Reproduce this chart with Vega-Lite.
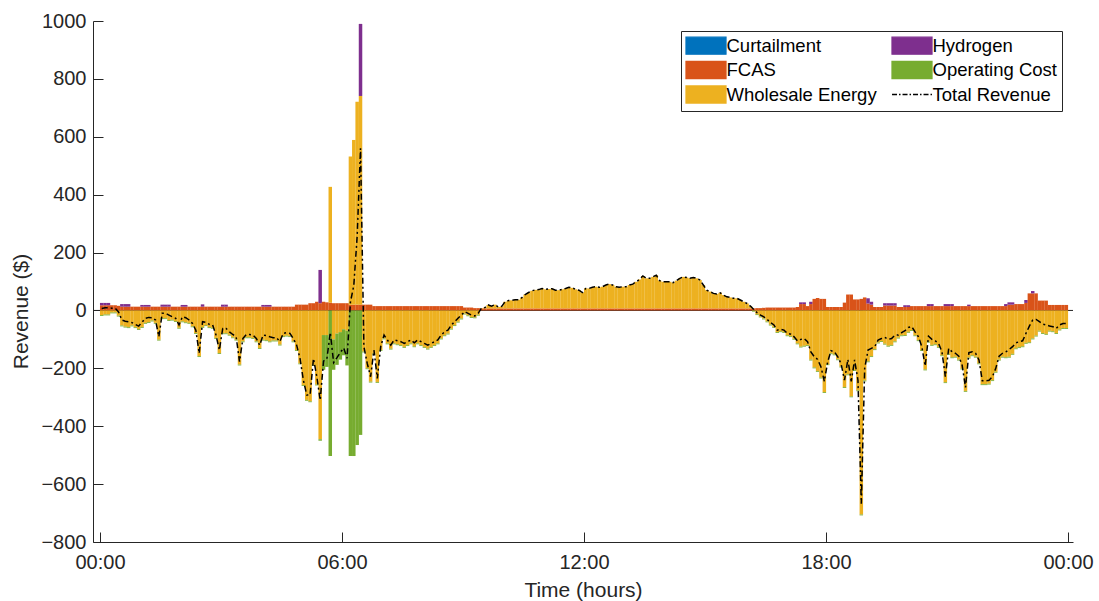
{
  "$schema": "https://vega.github.io/schema/vega-lite/v6.json",
  "width": 980,
  "height": 521,
  "autosize": {"type": "none"},
  "padding": {"left": 93, "top": 21, "right": 26, "bottom": 59},
  "background": "white",
  "datasets": {
    "series": [
      {"key": "fcas", "label": "FCAS", "rank": 2},
      {"key": "energy", "label": "Wholesale Energy", "rank": 3},
      {"key": "hydrogen", "label": "Hydrogen", "rank": 4},
      {"key": "opcost", "label": "Operating Cost", "rank": 5}
    ],
    "revenue": [
      {"t":0,"fcas":18,"energy":-16,"hydrogen":8,"opcost":-3,"total":7},
      {"t":5,"fcas":18,"energy":-14,"hydrogen":8,"opcost":-3,"total":9},
      {"t":10,"fcas":18,"energy":-14,"hydrogen":8,"opcost":-3,"total":9},
      {"t":15,"fcas":18,"energy":-7,"hydrogen":0,"opcost":-3,"total":8},
      {"t":20,"fcas":18,"energy":-7,"hydrogen":0,"opcost":-3,"total":8},
      {"t":25,"fcas":16,"energy":-18,"hydrogen":0,"opcost":-3,"total":-5},
      {"t":30,"fcas":13,"energy":-52,"hydrogen":9,"opcost":-3,"total":-33},
      {"t":35,"fcas":13,"energy":-56,"hydrogen":9,"opcost":-3,"total":-37},
      {"t":40,"fcas":13,"energy":-58,"hydrogen":9,"opcost":-3,"total":-39},
      {"t":45,"fcas":13,"energy":-52,"hydrogen":0,"opcost":-3,"total":-42},
      {"t":50,"fcas":13,"energy":-58,"hydrogen":0,"opcost":-3,"total":-48},
      {"t":55,"fcas":13,"energy":-64,"hydrogen":0,"opcost":-3,"total":-54},
      {"t":60,"fcas":13,"energy":-57,"hydrogen":6,"opcost":-3,"total":-41},
      {"t":65,"fcas":13,"energy":-43,"hydrogen":6,"opcost":-3,"total":-27},
      {"t":70,"fcas":13,"energy":-40,"hydrogen":6,"opcost":-3,"total":-24},
      {"t":75,"fcas":13,"energy":-35,"hydrogen":0,"opcost":-3,"total":-25},
      {"t":80,"fcas":13,"energy":-43,"hydrogen":0,"opcost":-3,"total":-33},
      {"t":85,"fcas":13,"energy":-101,"hydrogen":0,"opcost":-3,"total":-91},
      {"t":90,"fcas":13,"energy":-27,"hydrogen":7,"opcost":-3,"total":-10},
      {"t":95,"fcas":13,"energy":-27,"hydrogen":7,"opcost":-3,"total":-10},
      {"t":100,"fcas":13,"energy":-33,"hydrogen":7,"opcost":-3,"total":-16},
      {"t":105,"fcas":13,"energy":-32,"hydrogen":0,"opcost":-3,"total":-22},
      {"t":110,"fcas":13,"energy":-37,"hydrogen":0,"opcost":-3,"total":-27},
      {"t":115,"fcas":13,"energy":-60,"hydrogen":0,"opcost":-3,"total":-50},
      {"t":120,"fcas":13,"energy":-38,"hydrogen":6,"opcost":-3,"total":-22},
      {"t":125,"fcas":13,"energy":-41,"hydrogen":6,"opcost":-3,"total":-25},
      {"t":130,"fcas":13,"energy":-43,"hydrogen":0,"opcost":-3,"total":-33},
      {"t":135,"fcas":13,"energy":-55,"hydrogen":0,"opcost":-3,"total":-45},
      {"t":140,"fcas":13,"energy":-78,"hydrogen":0,"opcost":-3,"total":-68},
      {"t":145,"fcas":13,"energy":-158,"hydrogen":0,"opcost":-3,"total":-148},
      {"t":150,"fcas":13,"energy":-57,"hydrogen":8,"opcost":-3,"total":-39},
      {"t":155,"fcas":13,"energy":-51,"hydrogen":0,"opcost":-3,"total":-41},
      {"t":160,"fcas":13,"energy":-58,"hydrogen":0,"opcost":-3,"total":-48},
      {"t":165,"fcas":13,"energy":-60,"hydrogen":0,"opcost":-3,"total":-50},
      {"t":170,"fcas":13,"energy":-95,"hydrogen":0,"opcost":-3,"total":-85},
      {"t":175,"fcas":13,"energy":-147,"hydrogen":0,"opcost":-3,"total":-137},
      {"t":180,"fcas":13,"energy":-79,"hydrogen":7,"opcost":-3,"total":-62},
      {"t":185,"fcas":13,"energy":-79,"hydrogen":7,"opcost":-3,"total":-62},
      {"t":190,"fcas":13,"energy":-84,"hydrogen":0,"opcost":-3,"total":-74},
      {"t":195,"fcas":13,"energy":-93,"hydrogen":0,"opcost":-3,"total":-83},
      {"t":200,"fcas":13,"energy":-101,"hydrogen":0,"opcost":-3,"total":-91},
      {"t":205,"fcas":13,"energy":-187,"hydrogen":0,"opcost":-3,"total":-177},
      {"t":210,"fcas":13,"energy":-107,"hydrogen":0,"opcost":-3,"total":-97},
      {"t":215,"fcas":13,"energy":-93,"hydrogen":0,"opcost":-3,"total":-83},
      {"t":220,"fcas":13,"energy":-93,"hydrogen":0,"opcost":-3,"total":-83},
      {"t":225,"fcas":13,"energy":-95,"hydrogen":0,"opcost":-3,"total":-85},
      {"t":230,"fcas":13,"energy":-107,"hydrogen":0,"opcost":-3,"total":-97},
      {"t":235,"fcas":13,"energy":-130,"hydrogen":0,"opcost":-3,"total":-120},
      {"t":240,"fcas":13,"energy":-101,"hydrogen":6,"opcost":-3,"total":-85},
      {"t":245,"fcas":13,"energy":-103,"hydrogen":6,"opcost":-3,"total":-87},
      {"t":250,"fcas":13,"energy":-107,"hydrogen":6,"opcost":-3,"total":-91},
      {"t":255,"fcas":13,"energy":-104,"hydrogen":0,"opcost":-3,"total":-94},
      {"t":260,"fcas":13,"energy":-104,"hydrogen":0,"opcost":-3,"total":-94},
      {"t":265,"fcas":13,"energy":-118,"hydrogen":0,"opcost":-3,"total":-108},
      {"t":270,"fcas":13,"energy":-89,"hydrogen":0,"opcost":-3,"total":-79},
      {"t":275,"fcas":13,"energy":-87,"hydrogen":0,"opcost":-3,"total":-77},
      {"t":280,"fcas":13,"energy":-89,"hydrogen":0,"opcost":-3,"total":-79},
      {"t":285,"fcas":13,"energy":-107,"hydrogen":0,"opcost":-3,"total":-97},
      {"t":290,"fcas":20,"energy":-137,"hydrogen":0,"opcost":-3,"total":-120},
      {"t":295,"fcas":20,"energy":-183,"hydrogen":0,"opcost":-3,"total":-166},
      {"t":300,"fcas":20,"energy":-258,"hydrogen":0,"opcost":-3,"total":-241},
      {"t":305,"fcas":20,"energy":-309,"hydrogen":0,"opcost":-3,"total":-292},
      {"t":310,"fcas":25,"energy":-314,"hydrogen":0,"opcost":-3,"total":-292},
      {"t":315,"fcas":25,"energy":-188,"hydrogen":0,"opcost":-3,"total":-166},
      {"t":320,"fcas":30,"energy":-256,"hydrogen":0,"opcost":-3,"total":-229},
      {"t":325,"fcas":25,"energy":-445,"hydrogen":115,"opcost":-5,"total":-310},
      {"t":330,"fcas":30,"energy":-85,"hydrogen":0,"opcost":-120,"total":-175},
      {"t":335,"fcas":28,"energy":-85,"hydrogen":0,"opcost":-110,"total":-167},
      {"t":340,"fcas":27,"energy":400,"hydrogen":0,"opcost":-503,"total":-76},
      {"t":345,"fcas":25,"energy":-100,"hydrogen":0,"opcost":-105,"total":-180},
      {"t":350,"fcas":25,"energy":-80,"hydrogen":0,"opcost":-108,"total":-163},
      {"t":355,"fcas":25,"energy":-75,"hydrogen":0,"opcost":-95,"total":-145},
      {"t":360,"fcas":25,"energy":-65,"hydrogen":0,"opcost":-90,"total":-130},
      {"t":365,"fcas":25,"energy":-70,"hydrogen":0,"opcost":-120,"total":-165},
      {"t":370,"fcas":20,"energy":512,"hydrogen":0,"opcost":-503,"total":29},
      {"t":375,"fcas":20,"energy":569,"hydrogen":0,"opcost":-503,"total":86},
      {"t":380,"fcas":20,"energy":701,"hydrogen":0,"opcost":-465,"total":256},
      {"t":385,"fcas":20,"energy":721,"hydrogen":249,"opcost":-430,"total":560},
      {"t":390,"fcas":20,"energy":-142,"hydrogen":0,"opcost":-3,"total":-125},
      {"t":395,"fcas":20,"energy":-200,"hydrogen":0,"opcost":-3,"total":-183},
      {"t":400,"fcas":20,"energy":-246,"hydrogen":0,"opcost":-3,"total":-229},
      {"t":405,"fcas":15,"energy":-149,"hydrogen":0,"opcost":-3,"total":-137},
      {"t":410,"fcas":15,"energy":-247,"hydrogen":0,"opcost":-3,"total":-235},
      {"t":415,"fcas":15,"energy":-137,"hydrogen":0,"opcost":-3,"total":-125},
      {"t":420,"fcas":15,"energy":-97,"hydrogen":0,"opcost":-3,"total":-85},
      {"t":425,"fcas":15,"energy":-114,"hydrogen":0,"opcost":-3,"total":-102},
      {"t":430,"fcas":15,"energy":-132,"hydrogen":0,"opcost":-3,"total":-120},
      {"t":435,"fcas":15,"energy":-114,"hydrogen":0,"opcost":-3,"total":-102},
      {"t":440,"fcas":15,"energy":-117,"hydrogen":0,"opcost":-3,"total":-105},
      {"t":445,"fcas":15,"energy":-120,"hydrogen":0,"opcost":-3,"total":-108},
      {"t":450,"fcas":15,"energy":-126,"hydrogen":0,"opcost":-3,"total":-114},
      {"t":455,"fcas":15,"energy":-120,"hydrogen":0,"opcost":-3,"total":-108},
      {"t":460,"fcas":15,"energy":-114,"hydrogen":0,"opcost":-3,"total":-102},
      {"t":465,"fcas":15,"energy":-124,"hydrogen":0,"opcost":-3,"total":-112},
      {"t":470,"fcas":15,"energy":-114,"hydrogen":0,"opcost":-3,"total":-102},
      {"t":475,"fcas":15,"energy":-120,"hydrogen":0,"opcost":-3,"total":-108},
      {"t":480,"fcas":15,"energy":-126,"hydrogen":0,"opcost":-3,"total":-114},
      {"t":485,"fcas":15,"energy":-132,"hydrogen":0,"opcost":-3,"total":-120},
      {"t":490,"fcas":15,"energy":-126,"hydrogen":0,"opcost":-3,"total":-114},
      {"t":495,"fcas":15,"energy":-120,"hydrogen":0,"opcost":-3,"total":-108},
      {"t":500,"fcas":15,"energy":-114,"hydrogen":0,"opcost":-3,"total":-102},
      {"t":505,"fcas":15,"energy":-97,"hydrogen":0,"opcost":-3,"total":-85},
      {"t":510,"fcas":15,"energy":-86,"hydrogen":0,"opcost":-3,"total":-74},
      {"t":515,"fcas":15,"energy":-80,"hydrogen":0,"opcost":-3,"total":-68},
      {"t":520,"fcas":15,"energy":-63,"hydrogen":0,"opcost":-3,"total":-51},
      {"t":525,"fcas":15,"energy":-51,"hydrogen":0,"opcost":-3,"total":-39},
      {"t":530,"fcas":15,"energy":-39,"hydrogen":0,"opcost":-3,"total":-27},
      {"t":535,"fcas":15,"energy":-28,"hydrogen":0,"opcost":-3,"total":-16},
      {"t":540,"fcas":10,"energy":-11,"hydrogen":0,"opcost":-3,"total":-4},
      {"t":545,"fcas":10,"energy":-17,"hydrogen":0,"opcost":-3,"total":-10},
      {"t":550,"fcas":10,"energy":-23,"hydrogen":0,"opcost":-3,"total":-16},
      {"t":555,"fcas":8,"energy":-24,"hydrogen":0,"opcost":-3,"total":-19},
      {"t":560,"fcas":8,"energy":-15,"hydrogen":0,"opcost":-3,"total":-10},
      {"t":565,"fcas":7,"energy":1,"hydrogen":0,"opcost":0,"total":8},
      {"t":570,"fcas":7,"energy":3,"hydrogen":0,"opcost":0,"total":10},
      {"t":575,"fcas":7,"energy":12,"hydrogen":0,"opcost":0,"total":19},
      {"t":580,"fcas":7,"energy":8,"hydrogen":0,"opcost":0,"total":15},
      {"t":585,"fcas":7,"energy":13,"hydrogen":0,"opcost":0,"total":20},
      {"t":590,"fcas":7,"energy":5,"hydrogen":0,"opcost":0,"total":12},
      {"t":595,"fcas":7,"energy":7,"hydrogen":0,"opcost":0,"total":14},
      {"t":600,"fcas":7,"energy":23,"hydrogen":0,"opcost":0,"total":30},
      {"t":605,"fcas":7,"energy":27,"hydrogen":0,"opcost":0,"total":34},
      {"t":610,"fcas":7,"energy":28,"hydrogen":0,"opcost":0,"total":35},
      {"t":615,"fcas":7,"energy":30,"hydrogen":0,"opcost":0,"total":37},
      {"t":620,"fcas":7,"energy":30,"hydrogen":0,"opcost":0,"total":37},
      {"t":625,"fcas":7,"energy":37,"hydrogen":0,"opcost":0,"total":44},
      {"t":630,"fcas":7,"energy":48,"hydrogen":0,"opcost":0,"total":55},
      {"t":635,"fcas":7,"energy":55,"hydrogen":0,"opcost":0,"total":62},
      {"t":640,"fcas":7,"energy":61,"hydrogen":0,"opcost":0,"total":68},
      {"t":645,"fcas":7,"energy":64,"hydrogen":0,"opcost":0,"total":71},
      {"t":650,"fcas":7,"energy":65,"hydrogen":0,"opcost":0,"total":72},
      {"t":655,"fcas":7,"energy":69,"hydrogen":0,"opcost":0,"total":76},
      {"t":660,"fcas":7,"energy":66,"hydrogen":0,"opcost":0,"total":73},
      {"t":665,"fcas":7,"energy":67,"hydrogen":0,"opcost":0,"total":74},
      {"t":670,"fcas":7,"energy":68,"hydrogen":0,"opcost":0,"total":75},
      {"t":675,"fcas":7,"energy":63,"hydrogen":0,"opcost":0,"total":70},
      {"t":680,"fcas":7,"energy":63,"hydrogen":0,"opcost":0,"total":70},
      {"t":685,"fcas":7,"energy":66,"hydrogen":0,"opcost":0,"total":73},
      {"t":690,"fcas":7,"energy":69,"hydrogen":0,"opcost":0,"total":76},
      {"t":695,"fcas":7,"energy":73,"hydrogen":0,"opcost":0,"total":80},
      {"t":700,"fcas":7,"energy":71,"hydrogen":0,"opcost":0,"total":78},
      {"t":705,"fcas":7,"energy":66,"hydrogen":0,"opcost":0,"total":73},
      {"t":710,"fcas":7,"energy":63,"hydrogen":0,"opcost":0,"total":70},
      {"t":715,"fcas":7,"energy":55,"hydrogen":0,"opcost":0,"total":62},
      {"t":720,"fcas":7,"energy":69,"hydrogen":0,"opcost":0,"total":76},
      {"t":725,"fcas":7,"energy":69,"hydrogen":0,"opcost":0,"total":76},
      {"t":730,"fcas":7,"energy":73,"hydrogen":0,"opcost":0,"total":80},
      {"t":735,"fcas":7,"energy":75,"hydrogen":0,"opcost":0,"total":82},
      {"t":740,"fcas":7,"energy":73,"hydrogen":0,"opcost":0,"total":80},
      {"t":745,"fcas":7,"energy":75,"hydrogen":0,"opcost":0,"total":82},
      {"t":750,"fcas":7,"energy":81,"hydrogen":0,"opcost":0,"total":88},
      {"t":755,"fcas":7,"energy":84,"hydrogen":0,"opcost":0,"total":91},
      {"t":760,"fcas":7,"energy":81,"hydrogen":0,"opcost":0,"total":88},
      {"t":765,"fcas":7,"energy":75,"hydrogen":0,"opcost":0,"total":82},
      {"t":770,"fcas":7,"energy":73,"hydrogen":0,"opcost":0,"total":80},
      {"t":775,"fcas":7,"energy":75,"hydrogen":0,"opcost":0,"total":82},
      {"t":780,"fcas":7,"energy":75,"hydrogen":0,"opcost":0,"total":82},
      {"t":785,"fcas":7,"energy":81,"hydrogen":0,"opcost":0,"total":88},
      {"t":790,"fcas":7,"energy":84,"hydrogen":0,"opcost":0,"total":91},
      {"t":795,"fcas":7,"energy":92,"hydrogen":0,"opcost":0,"total":99},
      {"t":800,"fcas":7,"energy":100,"hydrogen":0,"opcost":0,"total":107},
      {"t":805,"fcas":7,"energy":112,"hydrogen":0,"opcost":0,"total":119},
      {"t":810,"fcas":7,"energy":104,"hydrogen":0,"opcost":0,"total":111},
      {"t":815,"fcas":7,"energy":104,"hydrogen":0,"opcost":0,"total":111},
      {"t":820,"fcas":7,"energy":109,"hydrogen":0,"opcost":0,"total":116},
      {"t":825,"fcas":7,"energy":115,"hydrogen":0,"opcost":0,"total":122},
      {"t":830,"fcas":7,"energy":96,"hydrogen":0,"opcost":0,"total":103},
      {"t":835,"fcas":7,"energy":92,"hydrogen":0,"opcost":0,"total":99},
      {"t":840,"fcas":7,"energy":92,"hydrogen":0,"opcost":0,"total":99},
      {"t":845,"fcas":7,"energy":92,"hydrogen":0,"opcost":0,"total":99},
      {"t":850,"fcas":7,"energy":89,"hydrogen":0,"opcost":0,"total":96},
      {"t":855,"fcas":7,"energy":96,"hydrogen":0,"opcost":0,"total":103},
      {"t":860,"fcas":7,"energy":104,"hydrogen":0,"opcost":0,"total":111},
      {"t":865,"fcas":7,"energy":109,"hydrogen":0,"opcost":0,"total":116},
      {"t":870,"fcas":7,"energy":107,"hydrogen":0,"opcost":0,"total":114},
      {"t":875,"fcas":7,"energy":104,"hydrogen":0,"opcost":0,"total":111},
      {"t":880,"fcas":7,"energy":107,"hydrogen":0,"opcost":0,"total":114},
      {"t":885,"fcas":7,"energy":104,"hydrogen":0,"opcost":0,"total":111},
      {"t":890,"fcas":7,"energy":98,"hydrogen":0,"opcost":0,"total":105},
      {"t":895,"fcas":7,"energy":81,"hydrogen":0,"opcost":0,"total":88},
      {"t":900,"fcas":7,"energy":63,"hydrogen":0,"opcost":0,"total":70},
      {"t":905,"fcas":7,"energy":58,"hydrogen":0,"opcost":0,"total":65},
      {"t":910,"fcas":7,"energy":52,"hydrogen":0,"opcost":0,"total":59},
      {"t":915,"fcas":7,"energy":50,"hydrogen":0,"opcost":0,"total":57},
      {"t":920,"fcas":7,"energy":54,"hydrogen":0,"opcost":0,"total":61},
      {"t":925,"fcas":7,"energy":46,"hydrogen":0,"opcost":0,"total":53},
      {"t":930,"fcas":7,"energy":40,"hydrogen":0,"opcost":0,"total":47},
      {"t":935,"fcas":7,"energy":38,"hydrogen":0,"opcost":0,"total":45},
      {"t":940,"fcas":7,"energy":35,"hydrogen":0,"opcost":0,"total":42},
      {"t":945,"fcas":7,"energy":35,"hydrogen":0,"opcost":0,"total":42},
      {"t":950,"fcas":7,"energy":29,"hydrogen":0,"opcost":0,"total":36},
      {"t":955,"fcas":7,"energy":23,"hydrogen":0,"opcost":0,"total":30},
      {"t":960,"fcas":7,"energy":17,"hydrogen":0,"opcost":0,"total":24},
      {"t":965,"fcas":7,"energy":8,"hydrogen":0,"opcost":0,"total":15},
      {"t":970,"fcas":7,"energy":-1,"hydrogen":0,"opcost":-3,"total":3},
      {"t":975,"fcas":8,"energy":-13,"hydrogen":0,"opcost":-3,"total":-8},
      {"t":980,"fcas":8,"energy":-21,"hydrogen":0,"opcost":-3,"total":-16},
      {"t":985,"fcas":9,"energy":-28,"hydrogen":0,"opcost":-3,"total":-22},
      {"t":990,"fcas":10,"energy":-38,"hydrogen":0,"opcost":-3,"total":-31},
      {"t":995,"fcas":10,"energy":-49,"hydrogen":0,"opcost":-3,"total":-42},
      {"t":1000,"fcas":10,"energy":-57,"hydrogen":0,"opcost":-3,"total":-50},
      {"t":1005,"fcas":10,"energy":-75,"hydrogen":0,"opcost":-3,"total":-68},
      {"t":1010,"fcas":10,"energy":-72,"hydrogen":0,"opcost":-3,"total":-65},
      {"t":1015,"fcas":10,"energy":-75,"hydrogen":0,"opcost":-3,"total":-68},
      {"t":1020,"fcas":10,"energy":-86,"hydrogen":0,"opcost":-3,"total":-79},
      {"t":1025,"fcas":10,"energy":-89,"hydrogen":0,"opcost":-3,"total":-82},
      {"t":1030,"fcas":10,"energy":-98,"hydrogen":0,"opcost":-3,"total":-91},
      {"t":1035,"fcas":12,"energy":-114,"hydrogen":0,"opcost":-3,"total":-105},
      {"t":1040,"fcas":22,"energy":-125,"hydrogen":6,"opcost":-3,"total":-100},
      {"t":1045,"fcas":22,"energy":-122,"hydrogen":6,"opcost":-3,"total":-97},
      {"t":1050,"fcas":15,"energy":-120,"hydrogen":0,"opcost":-3,"total":-108},
      {"t":1055,"fcas":22,"energy":-170,"hydrogen":8,"opcost":-3,"total":-143},
      {"t":1060,"fcas":40,"energy":-197,"hydrogen":0,"opcost":-3,"total":-160},
      {"t":1065,"fcas":43,"energy":-209,"hydrogen":0,"opcost":-3,"total":-169},
      {"t":1070,"fcas":40,"energy":-232,"hydrogen":0,"opcost":-3,"total":-195},
      {"t":1075,"fcas":40,"energy":-282,"hydrogen":0,"opcost":-3,"total":-245},
      {"t":1080,"fcas":12,"energy":-186,"hydrogen":0,"opcost":-3,"total":-177},
      {"t":1085,"fcas":12,"energy":-148,"hydrogen":0,"opcost":-3,"total":-139},
      {"t":1090,"fcas":12,"energy":-152,"hydrogen":0,"opcost":-3,"total":-143},
      {"t":1095,"fcas":12,"energy":-169,"hydrogen":0,"opcost":-3,"total":-160},
      {"t":1100,"fcas":12,"energy":-194,"hydrogen":0,"opcost":-3,"total":-185},
      {"t":1105,"fcas":27,"energy":-265,"hydrogen":0,"opcost":-3,"total":-241},
      {"t":1110,"fcas":55,"energy":-221,"hydrogen":0,"opcost":-3,"total":-169},
      {"t":1115,"fcas":55,"energy":-297,"hydrogen":0,"opcost":-3,"total":-245},
      {"t":1120,"fcas":38,"energy":-206,"hydrogen":0,"opcost":-3,"total":-171},
      {"t":1125,"fcas":38,"energy":-276,"hydrogen":0,"opcost":-3,"total":-241},
      {"t":1130,"fcas":40,"energy":-705,"hydrogen":0,"opcost":-3,"total":-668},
      {"t":1135,"fcas":45,"energy":-242,"hydrogen":0,"opcost":-3,"total":-200},
      {"t":1140,"fcas":24,"energy":-176,"hydrogen":18,"opcost":-3,"total":-137},
      {"t":1145,"fcas":20,"energy":-158,"hydrogen":10,"opcost":-3,"total":-131},
      {"t":1150,"fcas":12,"energy":-134,"hydrogen":0,"opcost":-3,"total":-125},
      {"t":1155,"fcas":12,"energy":-111,"hydrogen":0,"opcost":-3,"total":-102},
      {"t":1160,"fcas":12,"energy":-106,"hydrogen":0,"opcost":-3,"total":-97},
      {"t":1165,"fcas":17,"energy":-115,"hydrogen":8,"opcost":-3,"total":-93},
      {"t":1170,"fcas":17,"energy":-122,"hydrogen":8,"opcost":-3,"total":-100},
      {"t":1175,"fcas":17,"energy":-119,"hydrogen":8,"opcost":-3,"total":-97},
      {"t":1180,"fcas":17,"energy":-107,"hydrogen":8,"opcost":-3,"total":-85},
      {"t":1185,"fcas":12,"energy":-94,"hydrogen":0,"opcost":-3,"total":-85},
      {"t":1190,"fcas":12,"energy":-86,"hydrogen":0,"opcost":-3,"total":-77},
      {"t":1195,"fcas":12,"energy":-85,"hydrogen":6,"opcost":-3,"total":-70},
      {"t":1200,"fcas":12,"energy":-74,"hydrogen":6,"opcost":-3,"total":-59},
      {"t":1205,"fcas":15,"energy":-68,"hydrogen":0,"opcost":-3,"total":-56},
      {"t":1210,"fcas":15,"energy":-86,"hydrogen":0,"opcost":-3,"total":-74},
      {"t":1215,"fcas":15,"energy":-103,"hydrogen":0,"opcost":-3,"total":-91},
      {"t":1220,"fcas":15,"energy":-137,"hydrogen":0,"opcost":-3,"total":-125},
      {"t":1225,"fcas":15,"energy":-204,"hydrogen":0,"opcost":-3,"total":-192},
      {"t":1230,"fcas":15,"energy":-108,"hydrogen":7,"opcost":-3,"total":-89},
      {"t":1235,"fcas":15,"energy":-119,"hydrogen":7,"opcost":-3,"total":-100},
      {"t":1240,"fcas":15,"energy":-117,"hydrogen":0,"opcost":-3,"total":-105},
      {"t":1245,"fcas":15,"energy":-126,"hydrogen":0,"opcost":-3,"total":-114},
      {"t":1250,"fcas":15,"energy":-155,"hydrogen":0,"opcost":-3,"total":-143},
      {"t":1255,"fcas":15,"energy":-248,"hydrogen":7,"opcost":-3,"total":-229},
      {"t":1260,"fcas":15,"energy":-150,"hydrogen":7,"opcost":-3,"total":-131},
      {"t":1265,"fcas":15,"energy":-162,"hydrogen":7,"opcost":-3,"total":-143},
      {"t":1270,"fcas":15,"energy":-160,"hydrogen":0,"opcost":-3,"total":-148},
      {"t":1275,"fcas":15,"energy":-170,"hydrogen":0,"opcost":-3,"total":-158},
      {"t":1280,"fcas":15,"energy":-201,"hydrogen":0,"opcost":-3,"total":-189},
      {"t":1285,"fcas":15,"energy":-278,"hydrogen":0,"opcost":-3,"total":-266},
      {"t":1290,"fcas":15,"energy":-163,"hydrogen":5,"opcost":-3,"total":-146},
      {"t":1295,"fcas":15,"energy":-155,"hydrogen":0,"opcost":-3,"total":-143},
      {"t":1300,"fcas":15,"energy":-160,"hydrogen":0,"opcost":-3,"total":-148},
      {"t":1305,"fcas":15,"energy":-183,"hydrogen":0,"opcost":-3,"total":-171},
      {"t":1310,"fcas":15,"energy":-255,"hydrogen":0,"opcost":-3,"total":-243},
      {"t":1315,"fcas":15,"energy":-255,"hydrogen":0,"opcost":-3,"total":-243},
      {"t":1320,"fcas":15,"energy":-253,"hydrogen":0,"opcost":-3,"total":-241},
      {"t":1325,"fcas":15,"energy":-241,"hydrogen":0,"opcost":-3,"total":-229},
      {"t":1330,"fcas":15,"energy":-212,"hydrogen":0,"opcost":-3,"total":-200},
      {"t":1335,"fcas":15,"energy":-170,"hydrogen":0,"opcost":-3,"total":-158},
      {"t":1340,"fcas":15,"energy":-160,"hydrogen":0,"opcost":-3,"total":-148},
      {"t":1345,"fcas":15,"energy":-162,"hydrogen":7,"opcost":-3,"total":-143},
      {"t":1350,"fcas":20,"energy":-160,"hydrogen":8,"opcost":-3,"total":-135},
      {"t":1355,"fcas":20,"energy":-150,"hydrogen":8,"opcost":-3,"total":-125},
      {"t":1360,"fcas":22,"energy":-131,"hydrogen":0,"opcost":-3,"total":-112},
      {"t":1365,"fcas":22,"energy":-127,"hydrogen":0,"opcost":-3,"total":-108},
      {"t":1370,"fcas":22,"energy":-124,"hydrogen":0,"opcost":-3,"total":-105},
      {"t":1375,"fcas":26,"energy":-112,"hydrogen":10,"opcost":-3,"total":-79},
      {"t":1380,"fcas":59,"energy":-110,"hydrogen":0,"opcost":-3,"total":-54},
      {"t":1385,"fcas":59,"energy":-97,"hydrogen":8,"opcost":-3,"total":-33},
      {"t":1390,"fcas":59,"energy":-87,"hydrogen":0,"opcost":-3,"total":-31},
      {"t":1395,"fcas":34,"energy":-70,"hydrogen":0,"opcost":-3,"total":-39},
      {"t":1400,"fcas":34,"energy":-78,"hydrogen":0,"opcost":-3,"total":-47},
      {"t":1405,"fcas":34,"energy":-81,"hydrogen":0,"opcost":-3,"total":-50},
      {"t":1410,"fcas":19,"energy":-70,"hydrogen":0,"opcost":-3,"total":-54},
      {"t":1415,"fcas":19,"energy":-72,"hydrogen":0,"opcost":-3,"total":-56},
      {"t":1420,"fcas":19,"energy":-78,"hydrogen":0,"opcost":-3,"total":-62},
      {"t":1425,"fcas":19,"energy":-66,"hydrogen":0,"opcost":-3,"total":-50},
      {"t":1430,"fcas":19,"energy":-61,"hydrogen":0,"opcost":-3,"total":-45},
      {"t":1435,"fcas":19,"energy":-61,"hydrogen":0,"opcost":-3,"total":-45}
    ]
  },
  "config": {
    "font": "Liberation Sans",
    "view": {"stroke": null},
    "axis": {
      "grid": false,
      "domainColor": "#262626",
      "domainWidth": 1,
      "tickColor": "#262626",
      "tickWidth": 1,
      "tickSize": -10,
      "labelColor": "#262626",
      "labelFontSize": 20,
      "labelFlush": false,
      "labelOverlap": false,
      "titleColor": "#262626",
      "titleFontSize": 21,
      "titleFontWeight": "normal"
    }
  },
  "layer": [
    {
      "data": {"values": [{}]},
      "mark": {"type": "rule", "color": "#262626", "strokeWidth": 1},
      "encoding": {"y": {"datum": 0, "type": "quantitative"}}
    },
    {
      "data": {"name": "revenue"},
      "transform": [
        {"fold": ["fcas", "energy", "hydrogen", "opcost"], "as": ["key", "value"]},
        {"lookup": "key", "from": {"data": {"name": "series"}, "key": "key", "fields": ["label", "rank"]}}
      ],
      "mark": {"type": "bar", "orient": "vertical", "width": 3.5, "xOffset": 1.7},
      "encoding": {
        "x": {
          "field": "t",
          "type": "quantitative",
          "scale": {"domain": [-3, 1440], "nice": false, "zero": false},
          "axis": {
            "title": "Time (hours)",
            "values": [0, 360, 720, 1080, 1440],
            "labelExpr": "datum.value == 0 || datum.value == 1440 ? '00:00' : (datum.value < 600 ? '0' : '') + (datum.value / 60) + ':00'",
            "labelPadding": 20,
            "titlePadding": 7
          }
        },
        "y": {
          "field": "value",
          "type": "quantitative",
          "stack": "zero",
          "scale": {"domain": [-800, 1000], "nice": false, "zero": false},
          "axis": {
            "title": "Revenue ($)",
            "format": "d",
            "values": [-800, -600, -400, -200, 0, 200, 400, 600, 800, 1000],
            "labelPadding": 17,
            "titlePadding": 9,
            "titleY": 290
          }
        },
        "color": {
          "field": "label",
          "type": "nominal",
          "scale": {
            "domain": ["Curtailment", "FCAS", "Wholesale Energy", "Hydrogen", "Operating Cost", "Total Revenue"],
            "range": ["#0072BD", "#D95319", "#EDB120", "#7E2F8E", "#77AC30", "#000000"]
          },
          "legend": {
            "title": null,
            "orient": "none",
            "legendX": 588,
            "legendY": 10,
            "columns": 2,
            "columnPadding": 12,
            "rowPadding": 1.5,
            "padding": 5,
            "strokeColor": "#262626",
            "fillColor": "#ffffff",
            "labelFontSize": 18.5,
            "labelColor": "#000000",
            "labelLimit": 300,
            "symbolSize": 289,
            "symbolStrokeWidth": 1.5,
            "symbolOffset": 10.5,
            "labelOffset": 11,
            "encode": {
              "symbols": {
                "update": {
                  "shape": {"signal": "datum.value === 'Total Revenue' ? 'M-2.35,0H2.35' : 'M-2.35,-1H2.35V1H-2.35Z'"},
                  "fill": {"signal": "datum.value === 'Total Revenue' ? 'transparent' : scale('color', datum.value)"},
                  "stroke": {"signal": "datum.value === 'Total Revenue' ? '#000000' : 'transparent'"},
                  "strokeDash": {"signal": "datum.value === 'Total Revenue' ? [5, 2, 1.5, 2] : [1, 0]"},
                  "strokeWidth": {"value": 1.3},
                  "opacity": {"value": 1}
                }
              }
            }
          }
        },
        "order": {"field": "rank", "type": "quantitative"}
      }
    },
    {
      "data": {"name": "revenue"},
      "mark": {"type": "line", "strokeWidth": 1.5, "strokeDash": [6, 3, 2, 3], "xOffset": 1.7},
      "encoding": {
        "x": {"field": "t", "type": "quantitative"},
        "y": {"field": "total", "type": "quantitative"},
        "color": {"datum": "Total Revenue"}
      }
    }
  ]
}
